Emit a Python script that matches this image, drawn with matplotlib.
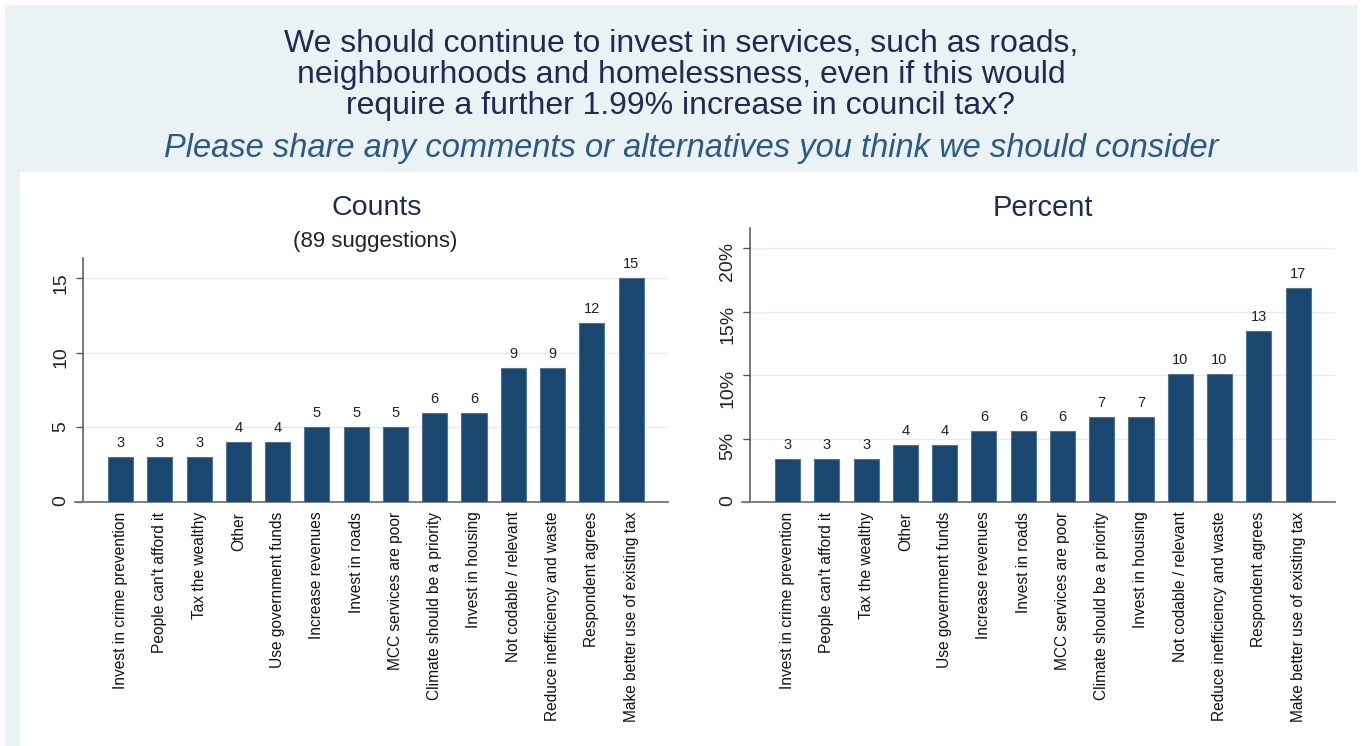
import matplotlib
matplotlib.use('Agg')
import matplotlib.pyplot as plt
from matplotlib.patches import Rectangle

plt.rcParams['font.family'] = ['Liberation Sans', 'DejaVu Sans']

categories = [
    'Invest in crime prevention', "People can't afford it", 'Tax the wealthy',
    'Other', 'Use government funds', 'Increase revenues', 'Invest in roads',
    'MCC services are poor', 'Climate should be a priority', 'Invest in housing',
    'Not codable / relevant', 'Reduce inefficiency and waste',
    'Respondent agrees', 'Make better use of existing tax',
]
counts = [3, 3, 3, 4, 4, 5, 5, 5, 6, 6, 9, 9, 12, 15]
percents = [3.4, 3.4, 3.4, 4.5, 4.5, 5.6, 5.6, 5.6, 6.7, 6.7, 10.1, 10.1, 13.5, 16.9]
percent_labels = ['3', '3', '3', '4', '4', '6', '6', '6', '7', '7', '10', '10', '13', '17']
count_ticks = [0, 5, 10, 15]
count_ticklabels = ['0', '5', '10', '15']
percent_ticks = [0, 5, 10, 15, 20]
percent_ticklabels = ['0', '5%', '10%', '15%', '20%']

W, H = 1362, 746
BAR = '#1a476f'
BG = '#eaf2f3'


def px(x, y):
    return x / W, 1 - y / H


def draw_bars(ax, values, labels, ticks, ticklabels, ymax):
    xs = list(range(len(values)))
    ax.bar(xs, values, width=0.64, color=BAR, edgecolor='#4d7597', linewidth=0.8, zorder=3)
    for x, v, lab in zip(xs, values, labels):
        ax.annotate(lab, (x, v), xytext=(0, 5), textcoords='offset points',
                    ha='center', va='bottom', fontsize=10.5, color='#222222')
    ax.set_xlim(-1.16, 13.94)
    ax.set_ylim(0, ymax)
    ax.set_xticks(xs)
    ax.set_xticklabels(categories, rotation=90, fontsize=11.2, color='#111111')
    ax.tick_params(axis='x', length=0, pad=7)
    ax.set_yticks(ticks)
    ax.set_yticklabels(ticklabels)
    ax.tick_params(axis='y', length=5, width=0.9, color='#555555', pad=5,
                   labelrotation=90, labelsize=14, labelcolor='#222222')
    for lab in ax.get_yticklabels():
        lab.set_verticalalignment('center')
    for t in ticks[1:]:
        ax.axhline(t, color='#e4edef', lw=1, zorder=1)
    for s in ['top', 'right']:
        ax.spines[s].set_visible(False)
    ax.spines['left'].set_position(('axes', 8 / 593))
    ax.spines['left'].set_color('#555555')
    ax.spines['bottom'].set_color('#777777')
    ax.spines['left'].set_linewidth(1.1)
    ax.spines['bottom'].set_linewidth(1.3)
    ax.set_facecolor('none')


fig = plt.figure(figsize=(W / 100, H / 100), dpi=100, facecolor='white')

# outer light panel and inner white plot region
fig.patches.append(Rectangle(px(5, 746), 1352 / W, 741 / H, transform=fig.transFigure,
                             facecolor=BG, edgecolor='none', zorder=-2))
fig.patches.append(Rectangle(px(20, 746), 1337 / W, 574 / H, transform=fig.transFigure,
                             facecolor='white', edgecolor='none', zorder=-1))

fig.text(0.5, 1 - 75 / H,
         'We should continue to invest in services, such as roads,\n'
         'neighbourhoods and homelessness, even if this would\n'
         'require a further 1.99% increase in council tax?',
         ha='center', va='center', fontsize=23, color='#1f2b55', linespacing=1.06)
fig.text(691 / W, 1 - 149 / H,
         'Please share any comments or alternatives you think we should consider',
         ha='center', va='center', fontsize=23.5, style='italic', color='#2a5a85')

ax1 = fig.add_axes([75 / W, 1 - 502 / H, 593 / W, 244 / H])
draw_bars(ax1, counts, [str(c) for c in counts], count_ticks, count_ticklabels, 16.36)
fig.text(377 / W, 1 - 208 / H, 'Counts', ha='center', va='center', fontsize=20.5, color='#1f2b55')
fig.text(375 / W, 1 - 242 / H, '(89 suggestions)', ha='center', va='center', fontsize=16,
         color='#222222')

ax2 = fig.add_axes([742 / W, 1 - 502 / H, 593 / W, 274 / H])
draw_bars(ax2, percents, percent_labels, percent_ticks, percent_ticklabels, 21.6)
fig.text(1043 / W, 1 - 208 / H, 'Percent', ha='center', va='center', fontsize=21, color='#1f2b55')

fig.savefig('out.png', dpi=100, facecolor='white')
